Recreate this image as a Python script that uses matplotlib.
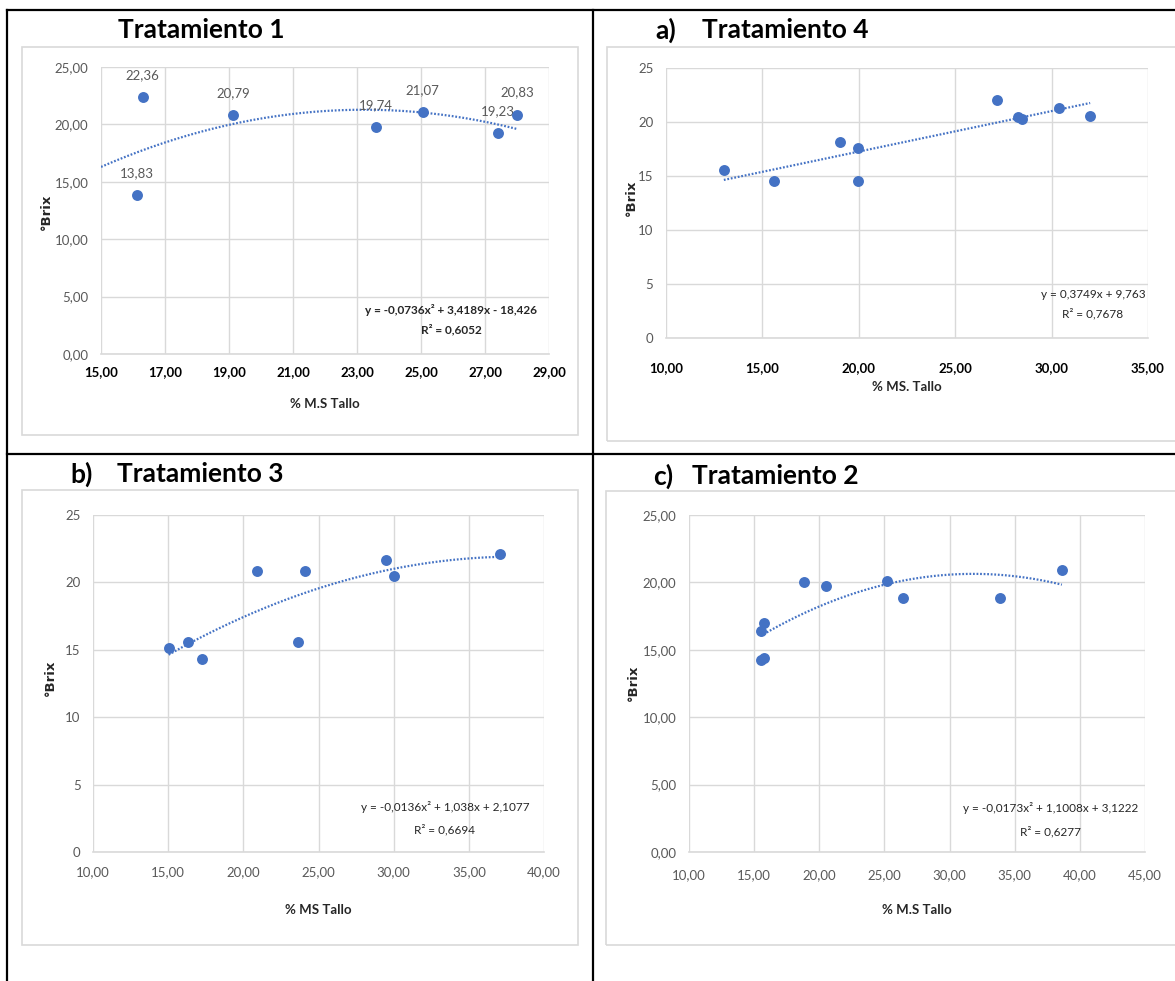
import matplotlib
matplotlib.use("Agg")
import matplotlib.pyplot as plt
import numpy as np
from matplotlib.lines import Line2D
from matplotlib.patches import Rectangle

# ---- data ----
t1_x = [16.13, 16.30, 19.12, 23.58, 25.05, 27.40, 28.01]
t1_y = [13.83, 22.36, 20.79, 19.74, 21.07, 19.23, 20.83]

t4_x = [13.00, 15.58, 19.01, 19.94, 19.94, 27.19, 28.27, 28.45, 30.37, 32.00]
t4_y = [15.56, 14.51, 18.15, 17.62, 14.51, 22.07, 20.43, 20.31, 21.33, 20.59]

t3_x = [15.03, 16.35, 17.23, 20.91, 23.63, 24.13, 29.49, 29.99, 37.04]
t3_y = [15.17, 15.57, 14.31, 20.87, 15.57, 20.87, 21.63, 20.50, 22.08]

t2_x = [15.49, 15.72, 15.49, 15.72, 18.84, 20.50, 25.17, 26.43, 33.84, 38.62]
t2_y = [16.38, 16.97, 14.28, 14.40, 20.06, 19.77, 20.13, 18.87, 18.87, 20.95]

# trendline coefficients (highest power first) as printed on the charts
t1_fit = [-0.0736, 3.4189, -18.426]
t4_fit = [0.3749, 9.763]
t3_fit = [-0.0136, 1.038, 2.1077]
t2_fit = [-0.0173, 1.1008, 3.1222]

t1_eq = ["y = -0,0736x² + 3,4189x - 18,426", "R² = 0,6052"]
t4_eq = ["y = 0,3749x + 9,763", "R² = 0,7678"]
t3_eq = ["y = -0,0136x² + 1,038x + 2,1077", "R² = 0,6694"]
t2_eq = ["y = -0,0173x² + 1,1008x + 3,1222", "R² = 0,6277"]

W, H = 1175, 981
BLUE = "#4472C4"
GRID = "#d9d9d9"
FONT = ["Lato", "DejaVu Sans"]

fig = plt.figure(figsize=(W / 100, H / 100), dpi=100)
fig.patch.set_facecolor("white")


def fx(x):
    return x / W


def fy(y):
    return 1 - y / H


def px_axes(l, t, r, b):
    return fig.add_axes([fx(l), fy(b), (r - l) / W, (b - t) / H])


def comma(dec):
    return lambda v, p: (f"{v:.{dec}f}").replace(".", ",")


# black frame
for (x0, y0, x1, y1) in [(7, 10, 1175, 10), (7, 10, 7, 981), (7, 454, 1175, 454),
                         (593, 10, 593, 981)]:
    fig.add_artist(Line2D([fx(x0), fx(x1)], [fy(y0), fy(y1)], color="black",
                          lw=1.6, transform=fig.transFigure))

# light gray chart boxes
for (l, t, r, b) in [(22, 47, 578, 435), (607, 47, 1180, 441),
                     (22, 490, 578, 945), (606, 491, 1180, 945)]:
    fig.add_artist(Rectangle((fx(l), fy(b)), (r - l) / W, (b - t) / H,
                             transform=fig.transFigure, fill=False,
                             edgecolor=GRID, lw=1.2))

panels = [
    dict(x=t1_x, y=t1_y, fit=t1_fit, eq=t1_eq, box=(101, 67, 549, 354),
         xlim=(15, 29), xstep=2, xdec=2, ydec=2, xbold=True, xpad=9,
         trend_from=15, eq_pos=(451, 310, 330), eq_bold=True,
         title=("", "Tratamiento 1"), title_pos=(None, 118, 30),
         xlabel="% M.S Tallo", xlabel_pos=(325, 404), ylabel_pos=(46, 212),
         labels=True),
    dict(x=t4_x, y=t4_y, fit=t4_fit, eq=t4_eq, box=(666, 68, 1148, 338),
         xlim=(10, 35), xstep=5, xdec=2, ydec=0, xbold=True, xpad=17,
         trend_from=None, eq_pos=(1093, 295, 314), eq_bold=False,
         title=("a)", "Tratamiento 4"), title_pos=(655, 702, 30),
         xlabel="% MS. Tallo", xlabel_pos=(907, 387), ylabel_pos=(631, 198),
         labels=False),
    dict(x=t3_x, y=t3_y, fit=t3_fit, eq=t3_eq, box=(93, 515, 544, 852),
         xlim=(10, 40), xstep=5, xdec=2, ydec=0, xbold=False, xpad=10,
         trend_from=None, eq_pos=(445, 807, 830), eq_bold=False,
         title=("b)", "Tratamiento 3"), title_pos=(70, 117, 474),
         xlabel="% MS Tallo", xlabel_pos=(318, 910), ylabel_pos=(50, 678),
         labels=False),
    dict(x=t2_x, y=t2_y, fit=t2_fit, eq=t2_eq, box=(689, 515, 1145, 852),
         xlim=(10, 45), xstep=5, xdec=2, ydec=2, xbold=False, xpad=12,
         trend_from=None, eq_pos=(1051, 808, 832), eq_bold=False,
         title=("c)", "Tratamiento 2"), title_pos=(653, 692, 476),
         xlabel="% M.S Tallo", xlabel_pos=(917, 910), ylabel_pos=(633, 683),
         labels=False),
]

for p in panels:
    ax = px_axes(*p["box"])
    ax.set_xlim(*p["xlim"])
    ax.set_ylim(0, 25)
    ax.set_xticks(np.arange(p["xlim"][0], p["xlim"][1] + 0.01, p["xstep"]))
    ax.set_yticks(np.arange(0, 25.01, 5))
    ax.xaxis.set_major_formatter(plt.FuncFormatter(comma(p["xdec"])))
    ax.yaxis.set_major_formatter(plt.FuncFormatter(comma(p["ydec"])))
    ax.grid(True, color=GRID, lw=1.0)
    ax.set_axisbelow(True)
    for s in ["top", "right", "left"]:
        ax.spines[s].set_visible(False)
    ax.spines["bottom"].set_color(GRID)
    ax.spines["bottom"].set_linewidth(1.2)
    ax.tick_params(length=0)
    ax.tick_params(axis="y", pad=9)
    ax.tick_params(axis="x", pad=p["xpad"])
    for lab in ax.get_xticklabels():
        lab.set_family(FONT)
        lab.set_fontsize(9.5)
        if p["xbold"]:
            lab.set_fontweight("bold")
            lab.set_color("black")
        else:
            lab.set_color("#595959")
    for lab in ax.get_yticklabels():
        lab.set_family(FONT)
        lab.set_fontsize(9.5)
        lab.set_color("#595959")

    # trendline
    x0 = p["trend_from"] if p["trend_from"] is not None else min(p["x"])
    xs = np.linspace(x0, max(p["x"]), 200)
    ax.plot(xs, np.polyval(p["fit"], xs), color=BLUE, lw=1.6,
            ls=(0, (0.8, 0.8)), zorder=3)
    ax.scatter(p["x"], p["y"], s=62, color=BLUE, zorder=4, linewidths=0)

    if p["labels"]:
        for xv, yv in zip(p["x"], p["y"]):
            ax.annotate(f"{yv:.2f}".replace(".", ","), (xv, yv),
                        xytext=(0, 16), textcoords="offset points",
                        ha="center", va="center", fontsize=9.5,
                        color="#595959", family=FONT)

    ex, ey1, ey2 = p["eq_pos"]
    w = "bold" if p["eq_bold"] else "normal"
    fig.text(fx(ex), fy(ey1), p["eq"][0], ha="center", va="center",
             fontsize=8.5, family=FONT, weight=w, color="#262626")
    fig.text(fx(ex), fy(ey2), p["eq"][1], ha="center", va="center",
             fontsize=8.5, family=FONT, weight=w, color="#262626")

    lx, tx, ty = p["title_pos"]
    if lx is not None:
        fig.text(fx(lx), fy(ty), p["title"][0], ha="left", va="center",
                 fontsize=19, weight="bold", family=FONT)
    fig.text(fx(tx), fy(ty), p["title"][1], ha="left", va="center",
             fontsize=19, weight="bold", family=FONT)

    fig.text(fx(p["xlabel_pos"][0]), fy(p["xlabel_pos"][1]), p["xlabel"],
             ha="center", va="center", fontsize=9.5, weight="bold",
             family=FONT, color="#262626")
    fig.text(fx(p["ylabel_pos"][0]), fy(p["ylabel_pos"][1]), "°Brix",
             ha="center", va="center", rotation=90, fontsize=9.5,
             weight="bold", family=["DejaVu Sans"], color="#262626")

fig.savefig("out.png", dpi=100)
